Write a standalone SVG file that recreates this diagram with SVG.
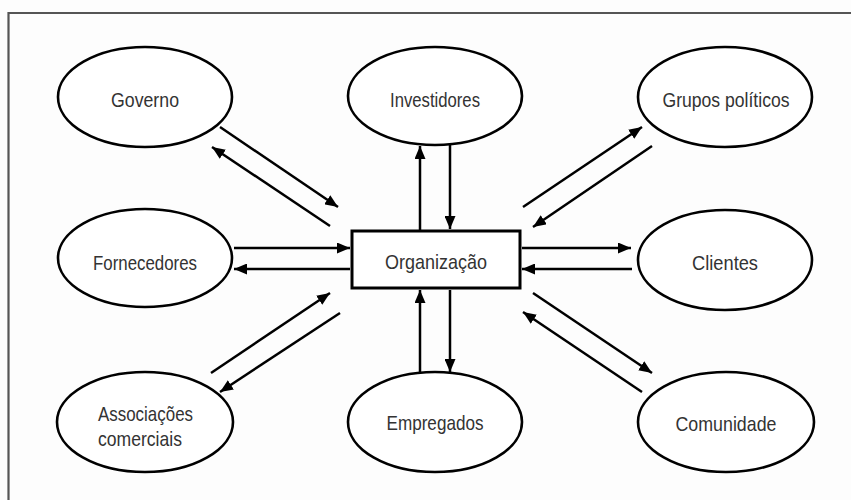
<svg xmlns="http://www.w3.org/2000/svg" width="851" height="500" viewBox="0 0 851 500">
<style>
.node ellipse{fill:#fff;stroke:#000;stroke-width:2.6}
.node rect{fill:#fff;stroke:#000;stroke-width:3}
.node text{font-family:"Liberation Sans",Arial,sans-serif;font-size:21px;fill:#333;text-anchor:middle;dominant-baseline:central}
#connectors line{stroke:#000;stroke-width:2.5;marker-end:url(#ah)}
</style>
<defs>
<marker id="ah" markerUnits="userSpaceOnUse" markerWidth="13" markerHeight="11" refX="13" refY="5.5" orient="auto">
<path d="M0,0 L13,5.5 L0,11 z" fill="#000"/>
</marker>
</defs>
<rect x="0" y="0" width="851" height="500" fill="#fdfdfd"/>
<path d="M8.5,500 V13 H851" fill="none" stroke="#555" stroke-width="2.2"/>
<g id="connectors">
<line x1="420" y1="230" x2="420" y2="146"/>
<line x1="450" y1="144" x2="450" y2="229"/>
<line x1="420" y1="373" x2="420" y2="290"/>
<line x1="450" y1="290" x2="450" y2="372"/>
<line x1="234" y1="248" x2="350" y2="248"/>
<line x1="350" y1="269" x2="234" y2="269"/>
<line x1="522" y1="248" x2="631" y2="248"/>
<line x1="632" y1="269" x2="522" y2="269"/>
<line x1="220" y1="127" x2="338" y2="207"/>
<line x1="330" y1="226" x2="212" y2="147"/>
<line x1="523" y1="207" x2="642" y2="127"/>
<line x1="652" y1="146" x2="533" y2="227"/>
<line x1="211" y1="373" x2="330" y2="293"/>
<line x1="340" y1="313" x2="220" y2="392"/>
<line x1="533" y1="293" x2="652" y2="373"/>
<line x1="642" y1="392" x2="523" y2="312"/>
</g>
<g id="governo" class="node"><ellipse cx="145" cy="97" rx="87" ry="50"/><text x="145" y="99" textLength="68" lengthAdjust="spacingAndGlyphs">Governo</text></g>
<g id="investidores" class="node"><ellipse cx="435" cy="96" rx="87" ry="49"/><text x="435" y="99" textLength="90" lengthAdjust="spacingAndGlyphs">Investidores</text></g>
<g id="grupos" class="node"><ellipse cx="725" cy="97" rx="87" ry="50"/><text x="726" y="99" textLength="127" lengthAdjust="spacingAndGlyphs">Grupos políticos</text></g>
<g id="fornecedores" class="node"><ellipse cx="145" cy="258" rx="87" ry="49"/><text x="145" y="262" textLength="104" lengthAdjust="spacingAndGlyphs">Fornecedores</text></g>
<g id="organizacao" class="node"><rect x="352" y="231" width="168" height="57"/><text x="436" y="261" textLength="102" lengthAdjust="spacingAndGlyphs">Organização</text></g>
<g id="clientes" class="node"><ellipse cx="725" cy="260" rx="87" ry="50"/><text x="725" y="262" textLength="66" lengthAdjust="spacingAndGlyphs">Clientes</text></g>
<g id="associacoes" class="node"><ellipse cx="145" cy="422" rx="88" ry="50"/><text x="98" y="413" style="text-anchor:start" textLength="95" lengthAdjust="spacingAndGlyphs">Associações</text><text x="98" y="438" style="text-anchor:start" textLength="84" lengthAdjust="spacingAndGlyphs">comerciais</text></g>
<g id="empregados" class="node"><ellipse cx="435" cy="422" rx="87" ry="50"/><text x="435" y="422" textLength="97" lengthAdjust="spacingAndGlyphs">Empregados</text></g>
<g id="comunidade" class="node"><ellipse cx="726" cy="422" rx="88" ry="50"/><text x="726" y="423" textLength="101" lengthAdjust="spacingAndGlyphs">Comunidade</text></g>
</svg>
